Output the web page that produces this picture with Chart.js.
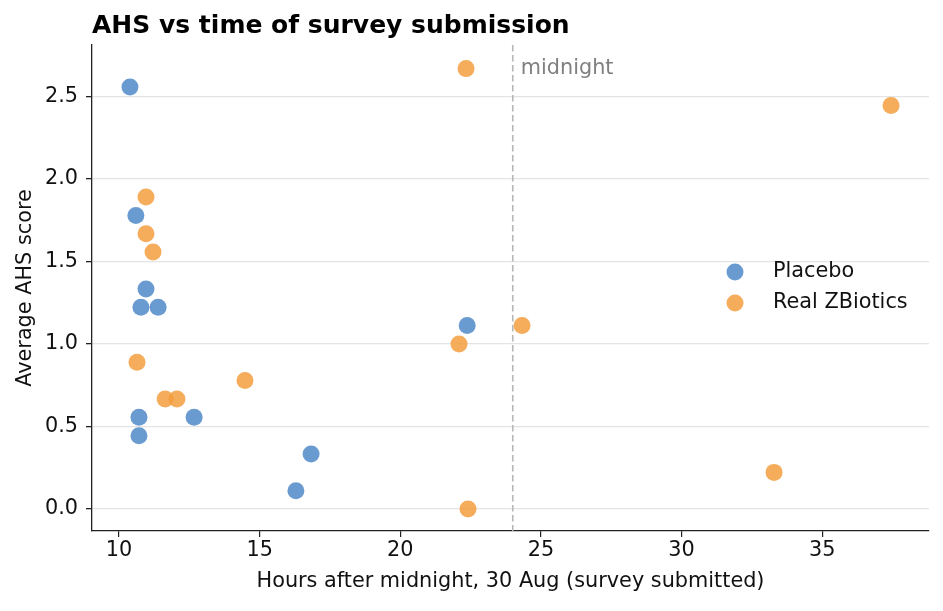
<!DOCTYPE html>
<html><head><meta charset="utf-8">
<script src="https://cdn.jsdelivr.net/npm/chart.js@4"></script>
<style>html,body{margin:0;padding:0;background:#fff}#wrap{width:943px;height:611px;position:relative}</style>
</head><body><div id="wrap"><canvas id="c"></canvas></div>
<script>
const titleText = 'AHS vs time of survey submission';
const xLabel = 'Hours after midnight, 30 Aug (survey submitted)';
const yLabel = 'Average AHS score';
const seriesNames = ['Placebo', 'Real ZBiotics'];
const placeboX = [10.39, 10.6, 10.96, 10.78, 11.39, 10.71, 10.71, 12.67, 16.83, 16.29, 22.38];
const placeboY = [2.556, 1.778, 1.333, 1.222, 1.222, 0.556, 0.444, 0.556, 0.333, 0.111, 1.111];
const realX = [22.34, 37.45, 10.96, 10.96, 11.21, 10.64, 11.64, 12.06, 14.48, 22.09, 24.33, 22.41, 33.29];
const realY = [2.667, 2.444, 1.889, 1.667, 1.556, 0.889, 0.667, 0.667, 0.778, 1.0, 1.111, 0.0, 0.222];
const xTicks = [10, 15, 20, 25, 30, 35];
const yTicks = [0.0, 0.5, 1.0, 1.5, 2.0, 2.5];
const midnightX = 24;
const midnightLabel = 'midnight';

const blue = 'rgba(80,138,200,0.85)';
const orange = 'rgba(243,157,62,0.85)';
const FONT = 'DejaVu Sans';
const FS = 20.8;

const toPts = (xs, ys) => xs.map((x, i) => ({x: x, y: ys[i]}));

const extras = {
  id: 'extras',
  beforeDatasetsDraw(chart) {
    const {ctx, chartArea, scales} = chart;
    const px = scales.x.getPixelForValue(midnightX);
    ctx.save();
    ctx.strokeStyle = '#b6b6b6';
    ctx.lineWidth = 1.6;
    ctx.setLineDash([6.5, 3.5]);
    ctx.beginPath();
    ctx.moveTo(px, chartArea.top);
    ctx.lineTo(px, chartArea.bottom);
    ctx.stroke();
    ctx.setLineDash([]);
    ctx.fillStyle = '#808080';
    ctx.font = FS + 'px "' + FONT + '"';
    ctx.textBaseline = 'middle';
    ctx.textAlign = 'left';
    ctx.fillText(midnightLabel, px + 8, scales.y.getPixelForValue(2.665));
    ctx.restore();
  },
  afterDraw(chart) {
    const {ctx, chartArea} = chart;
    ctx.save();
    ctx.fillStyle = '#000';
    ctx.font = 'bold 25px "' + FONT + '"';
    ctx.textBaseline = 'alphabetic';
    ctx.textAlign = 'left';
    ctx.fillText(titleText, chartArea.left, 33);
    const cols = [blue, orange];
    ctx.font = FS + 'px "' + FONT + '"';
    ctx.textBaseline = 'middle';
    seriesNames.forEach((n, i) => {
      const y = 272 + i * 31;
      ctx.fillStyle = cols[i];
      ctx.beginPath();
      ctx.arc(735, y, 8.5, 0, Math.PI * 2);
      ctx.fill();
      ctx.fillStyle = '#111';
      ctx.fillText(n, 773, y);
    });
    ctx.restore();
  }
};

new Chart(document.getElementById('c'), {
  type: 'scatter',
  data: {
    datasets: [
      {label: seriesNames[0], data: toPts(placeboX, placeboY), backgroundColor: blue, borderWidth: 0, pointRadius: 8.5, pointHoverRadius: 8.5},
      {label: seriesNames[1], data: toPts(realX, realY), backgroundColor: orange, borderWidth: 0, pointRadius: 8.5, pointHoverRadius: 8.5}
    ]
  },
  options: {
    responsive: true,
    maintainAspectRatio: false,
    animation: false,
    devicePixelRatio: 1,
    layout: {padding: {top: 45, right: 14, left: 0, bottom: 0}},
    plugins: {legend: {display: false}, title: {display: false}, tooltip: {enabled: false}},
    scales: {
      x: {
        type: 'linear', min: 9.04, max: 38.8,
        afterBuildTicks: s => { s.ticks = xTicks.map(v => ({value: v})); },
        afterFit: s => { s.height = 80; },
        grid: {display: true, drawOnChartArea: false, drawTicks: true, tickLength: 6, tickColor: '#222', lineWidth: 1.2},
        border: {display: true, color: '#222', width: 1.3},
        ticks: {font: {family: FONT, size: FS}, color: '#111', padding: 1, maxRotation: 0},
        title: {display: true, text: xLabel, font: {family: FONT, size: FS}, color: '#111', padding: {top: 0, bottom: 17}}
      },
      y: {
        type: 'linear', min: -0.133, max: 2.81,
        afterBuildTicks: s => { s.ticks = yTicks.map(v => ({value: v})); },
        afterFit: s => { s.width = 92; },
        grid: {display: true, drawOnChartArea: true, drawTicks: true, tickLength: 6, color: '#e4e4e4', tickColor: '#222', lineWidth: 1.3},
        border: {display: true, color: '#222', width: 1.3},
        ticks: {font: {family: FONT, size: FS}, color: '#111', padding: 8, callback: v => Number(v).toFixed(1)},
        title: {display: true, text: yLabel, font: {family: FONT, size: FS}, color: '#111', padding: {top: 13, bottom: 0}}
      }
    }
  },
  plugins: [extras]
});
</script></body></html>
